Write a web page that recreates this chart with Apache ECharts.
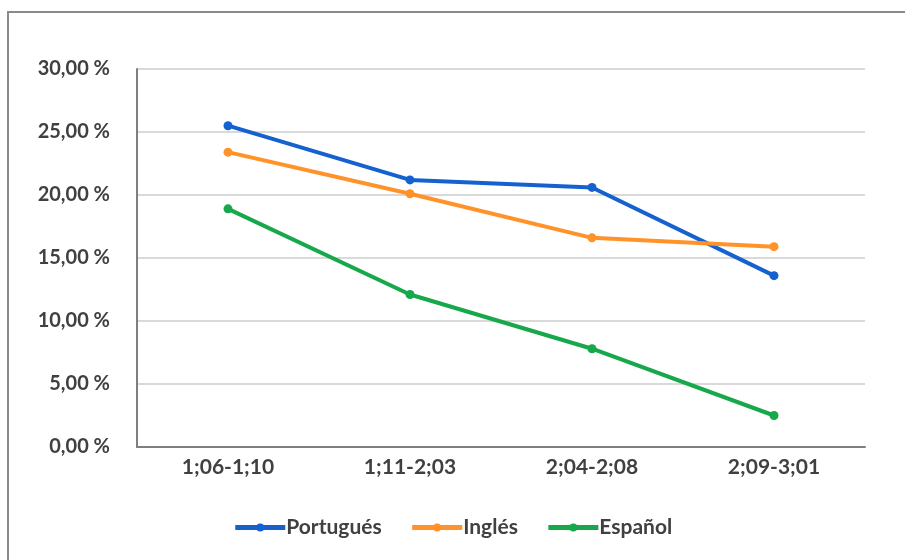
<!DOCTYPE html>
<html>
<head>
<meta charset="utf-8">
<script src="https://cdn.jsdelivr.net/npm/echarts@6/dist/echarts.min.js"></script>
<style>
  html, body { margin: 0; padding: 0; background: #fff; }
  #frame { position: absolute; left: 7px; top: 11px; width: 905px; height: 560px;
           border-left: 2px solid #8a8a8a; border-top: 2px solid #8a8a8a; }
  #chart { position: absolute; left: 0; top: 0; width: 905px; height: 560px; }
</style>
</head>
<body>
<div id="frame"></div>
<div id="chart"></div>
<script>
// Age ranges (years;months)
const categories = ['1;06-1;10', '1;11-2;03', '2;04-2;08', '2;09-3;01'];
// Percentages per language
const portugues = [25.5, 21.2, 20.6, 13.6];
const ingles = [23.4, 20.1, 16.6, 15.9];
const espanol = [18.9, 12.1, 7.8, 2.5];
const seriesNames = ['Portugués', 'Inglés', 'Español'];
const seriesColors = ['#1561cf', '#ff9329', '#16a84b'];

const chart = echarts.init(document.getElementById('chart'));
const font = 'Lato, "Open Sans", sans-serif';

function lineSeries(name, data, color) {
  return {
    name: name,
    type: 'line',
    data: data,
    symbol: 'circle',
    symbolSize: 9,
    lineStyle: { width: 4, color: color },
    itemStyle: { color: color },
    emphasis: { disabled: true }
  };
}

chart.setOption({
  animation: false,
  grid: { left: 137, right: 40, top: 69, bottom: 113 },
  legend: {
    bottom: 17,
    left: 'center',
    itemWidth: 50,
    itemHeight: 10,
    itemGap: 28,
    lineStyle: { width: 5 },
    textStyle: { fontFamily: font, fontSize: 21, fontWeight: 'bold', color: '#404040', padding: [0, 0, 0, -4] },
    data: seriesNames
  },
  xAxis: {
    type: 'category',
    data: categories,
    boundaryGap: true,
    axisLine: { lineStyle: { color: '#7f7f7f', width: 2 } },
    axisTick: { show: false },
    axisLabel: { fontFamily: font, fontSize: 21, fontWeight: 'bold', color: '#404040', margin: 10 }
  },
  yAxis: {
    type: 'value',
    min: 0,
    max: 30,
    interval: 5,
    axisLine: { show: true, lineStyle: { color: '#7f7f7f', width: 2 } },
    axisTick: { show: false },
    splitLine: { lineStyle: { color: '#d9d9d9', width: 2 } },
    axisLabel: {
      fontFamily: font, fontSize: 20, fontWeight: 'bold', color: '#404040', margin: 27,
      formatter: v => v.toFixed(2).replace('.', ',') + ' %'
    }
  },
  series: [
    lineSeries(seriesNames[0], portugues, seriesColors[0]),
    lineSeries(seriesNames[1], ingles, seriesColors[1]),
    lineSeries(seriesNames[2], espanol, seriesColors[2])
  ]
});
</script>
</body>
</html>
